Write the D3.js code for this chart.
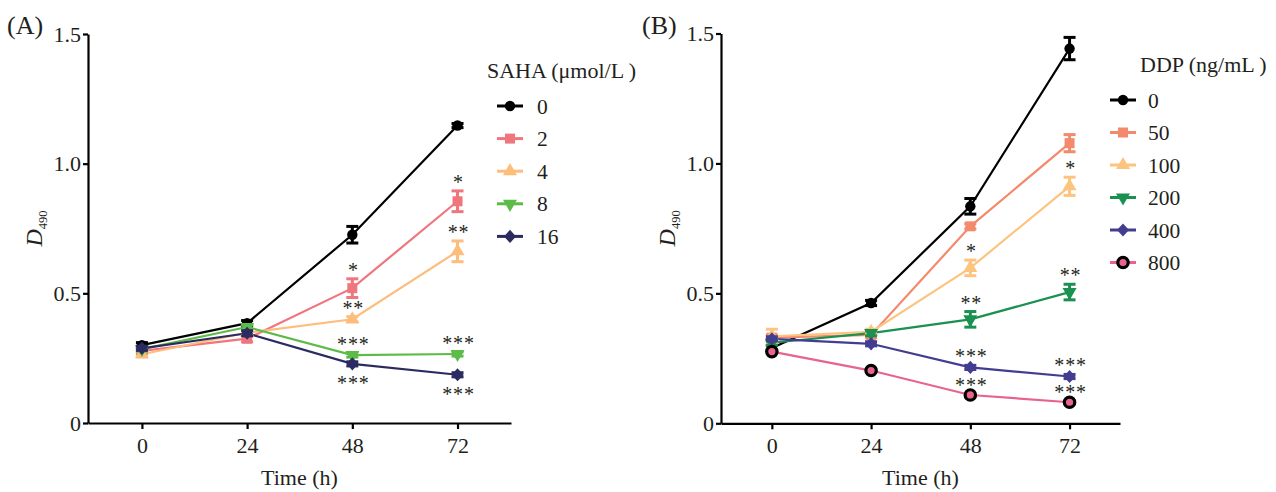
<!DOCTYPE html>
<html>
<head>
<meta charset="utf-8">
<script src="https://cdn.jsdelivr.net/npm/d3@7"></script>
<style>
    body { margin: 0; background: #fff; }
    svg text { font-family: "Liberation Serif", "Times New Roman", serif; fill: #231f20; }
</style>
</head>
<body>
<script>
// temps de mesure (h)
const times = [0, 24, 48, 72]
const yTicks = [0, 0.5, 1.0, 1.5]

// (A) SAHA
const sahaDoses = ["0", "2", "4", "8", "16"]
const sahaMeans = [
    [0.300, 0.385, 0.726, 1.147],
    [0.278, 0.325, 0.520, 0.855],
    [0.265, 0.348, 0.400, 0.662],
    [0.285, 0.370, 0.262, 0.266],
    [0.288, 0.346, 0.228, 0.186]
]
const sahaErrors = [
    [0.010, 0.010, 0.032, 0.008],
    [0.010, 0.012, 0.036, 0.040],
    [0.010, 0.010, 0.010, 0.040],
    [0.008, 0.008, 0.008, 0.008],
    [0.008, 0.010, 0.008, 0.008]
]
const sahaSig = [
    ["", "", "", ""],
    ["", "", "*", "*"],
    ["", "", "**", "**"],
    ["", "", "***", "***"],
    ["", "", "***", "***"]
]
const sahaSigSide = [
    ["", "", "", ""],
    ["", "", "up", "up"],
    ["", "", "up", "up"],
    ["", "", "up", "up"],
    ["", "", "down", "down"]
]

// (B) DDP
const ddpDoses = ["0", "50", "100", "200", "400", "800"]
const ddpMeans = [
    [0.290, 0.463, 0.835, 1.442],
    [0.330, 0.340, 0.758, 1.078],
    [0.335, 0.352, 0.598, 0.912],
    [0.310, 0.347, 0.400, 0.505],
    [0.325, 0.306, 0.215, 0.180],
    [0.276, 0.203, 0.109, 0.081]
]
const ddpErrors = [
    [0.010, 0.010, 0.030, 0.043],
    [0.010, 0.010, 0.010, 0.033],
    [0.027, 0.010, 0.030, 0.035],
    [0.010, 0.010, 0.030, 0.030],
    [0.008, 0.008, 0.008, 0.008],
    [0.005, 0.005, 0.005, 0.005]
]
const ddpSig = [
    ["", "", "", ""],
    ["", "", "", ""],
    ["", "", "*", "*"],
    ["", "", "**", "**"],
    ["", "", "***", "***"],
    ["", "", "***", "***"]
]
const ddpSigSide = [
    ["", "", "", ""],
    ["", "", "", ""],
    ["", "", "up", "up"],
    ["", "", "up", "up"],
    ["", "", "up", "up"],
    ["", "", "up", "up"]
]

// couleurs et symboles
const sahaColors = ["#000000", "#f0767e", "#fdbd7c", "#5dbb47", "#2b2b62"]
const sahaShapes = ["circle", "square", "triangle", "down", "diamond"]
const ddpColors = ["#000000", "#f48a6c", "#fdc47f", "#1a9150", "#433d91", "#e8648f"]
const ddpShapes = ["circle", "square", "triangle", "down", "diamond", "ring"]

const xDomain = [-12.3, 84.2]

let svg = d3.select("body")
    .append("svg")
    .attr("width", 1276)
    .attr("height", 492)

function marqueur(g, shape, color) {
    if (shape == "ring") {
        g.append("circle").attr("r", 5.2)
            .attr("fill", color).attr("stroke", "#000").attr("stroke-width", 3.2)
        return
    }
    if (shape == "diamond") {
        g.append("path").attr("d", "M0,-6.6L6,0L0,6.6L-6,0Z").attr("fill", color)
        return
    }
    let type = d3.symbolCircle, size = 85, rot = 0
    if (shape == "square") { type = d3.symbolSquare; size = 100 }
    if (shape == "triangle") { type = d3.symbolTriangle; size = 85 }
    if (shape == "down") { type = d3.symbolTriangle; size = 85; rot = 180 }
    g.append("path")
        .attr("d", d3.symbol().type(type).size(size)())
        .attr("transform", "rotate(" + rot + ")")
        .attr("fill", color)
}

function dessinerPanneau(p) {
    let x = d3.scaleLinear().domain(xDomain).range([p.left, p.right])
    let y = d3.scaleLinear().domain([0, 1.5]).range([p.bottom, p.top])

    // axes
    let axeX = svg.append("g")
        .attr("transform", "translate(0," + p.bottom + ")")
        .call(d3.axisBottom(x).tickValues(times).tickSize(6).tickSizeOuter(0).tickPadding(8))
    let axeY = svg.append("g")
        .attr("transform", "translate(" + p.left + ",0)")
        .call(d3.axisLeft(y).tickValues(yTicks).tickSize(5).tickSizeOuter(0).tickPadding(2)
            .tickFormat(d => d == 0 ? "0" : d3.format(".1f")(d)))
    for (const axe of [axeX, axeY]) {
        axe.attr("font-size", 22).attr("font-family", null)
        axe.selectAll("path, line").attr("stroke", "#000").attr("stroke-width", 2.2)
        axe.selectAll("text").attr("fill", "#231f20")
    }

    // titres des axes
    svg.append("text")
        .attr("x", (p.left + p.right) / 2).attr("y", 485)
        .attr("text-anchor", "middle").attr("font-size", 22)
        .text("Time (h)")
    let lab = svg.append("text")
        .attr("transform", "translate(" + (p.left - 46) + "," + ((p.top + p.bottom) / 2) + ") rotate(-90)")
        .attr("text-anchor", "middle")
    lab.append("tspan").attr("font-size", 24).attr("font-style", "italic").text("D")
    lab.append("tspan").attr("font-size", 12.5).attr("dy", 5).text("490")

    svg.append("text")
        .attr("x", p.tagX).attr("y", 34)
        .attr("font-size", 26)
        .text(p.tag)

    let line = d3.line().x((d, i) => x(times[i])).y(d => y(d))

    // lignes
    p.means.forEach((serie, s) => {
        svg.append("path")
            .datum(serie)
            .attr("d", line)
            .attr("fill", "none")
            .attr("stroke", p.colors[s])
            .attr("stroke-width", 2.2)
    })

    // barres d'erreur + marqueurs
    p.means.forEach((serie, s) => {
        let c = p.colors[s]
        serie.forEach((v, i) => {
            let e = p.errors[s][i]
            let cx = x(times[i])
            let g = svg.append("g")
            g.append("line")
                .attr("x1", cx).attr("x2", cx)
                .attr("y1", y(v - e)).attr("y2", y(v + e))
                .attr("stroke", c).attr("stroke-width", 3)
            for (const yy of [v - e, v + e]) {
                g.append("line")
                    .attr("x1", cx - 6).attr("x2", cx + 6)
                    .attr("y1", y(yy)).attr("y2", y(yy))
                    .attr("stroke", c).attr("stroke-width", 3)
            }
            let m = svg.append("g").attr("transform", "translate(" + cx + "," + y(v) + ")")
            marqueur(m, p.shapes[s], c)
        })
    })

    // étoiles de significativité
    p.means.forEach((serie, s) => {
        serie.forEach((v, i) => {
            let txt = p.sig[s][i]
            if (txt == "") return
            let e = p.errors[s][i]
            let centre = p.side[s][i] == "up" ? y(v + e) - 12 : y(v - e) + 14
            svg.append("text")
                .attr("x", x(times[i]) + 1)
                .attr("y", centre + 10)
                .attr("text-anchor", "middle")
                .attr("font-size", 20)
                .attr("letter-spacing", 0.8)
                .attr("fill", "#444")
                .text(txt)
        })
    })

    // légende
    svg.append("text")
        .attr("x", p.legTitleX).attr("y", p.legY - 28)
        .attr("font-size", 22)
        .text(p.legTitle)
    p.doses.forEach((d, s) => {
        let ly = p.legY + s * p.legStep
        svg.append("line")
            .attr("x1", p.legLineX).attr("x2", p.legLineX + 26)
            .attr("y1", ly).attr("y2", ly)
            .attr("stroke", p.colors[s]).attr("stroke-width", 3)
        let m = svg.append("g").attr("transform", "translate(" + (p.legLineX + 13) + "," + ly + ")")
        marqueur(m, p.shapes[s], p.colors[s])
        svg.append("text")
            .attr("x", p.legLabelX).attr("y", ly + 7.5)
            .attr("font-size", 21.5)
            .text(d)
    })
}

dessinerPanneau({
    tag: "(A)", tagX: 7, left: 88, right: 511, top: 34, bottom: 423,
    means: sahaMeans, errors: sahaErrors, sig: sahaSig, side: sahaSigSide,
    colors: sahaColors, shapes: sahaShapes, doses: sahaDoses,
    legTitle: "SAHA (μmol/L )", legTitleX: 487, legLineX: 497, legLabelX: 537,
    legY: 106, legStep: 32.6
})

dessinerPanneau({
    tag: "(B)", tagX: 642, left: 721, right: 1120, top: 33.5, bottom: 423.3,
    means: ddpMeans, errors: ddpErrors, sig: ddpSig, side: ddpSigSide,
    colors: ddpColors, shapes: ddpShapes, doses: ddpDoses,
    legTitle: "DDP (ng/mL )", legTitleX: 1140, legLineX: 1110, legLabelX: 1148,
    legY: 100, legStep: 32.5
})
</script>
</body>
</html>
